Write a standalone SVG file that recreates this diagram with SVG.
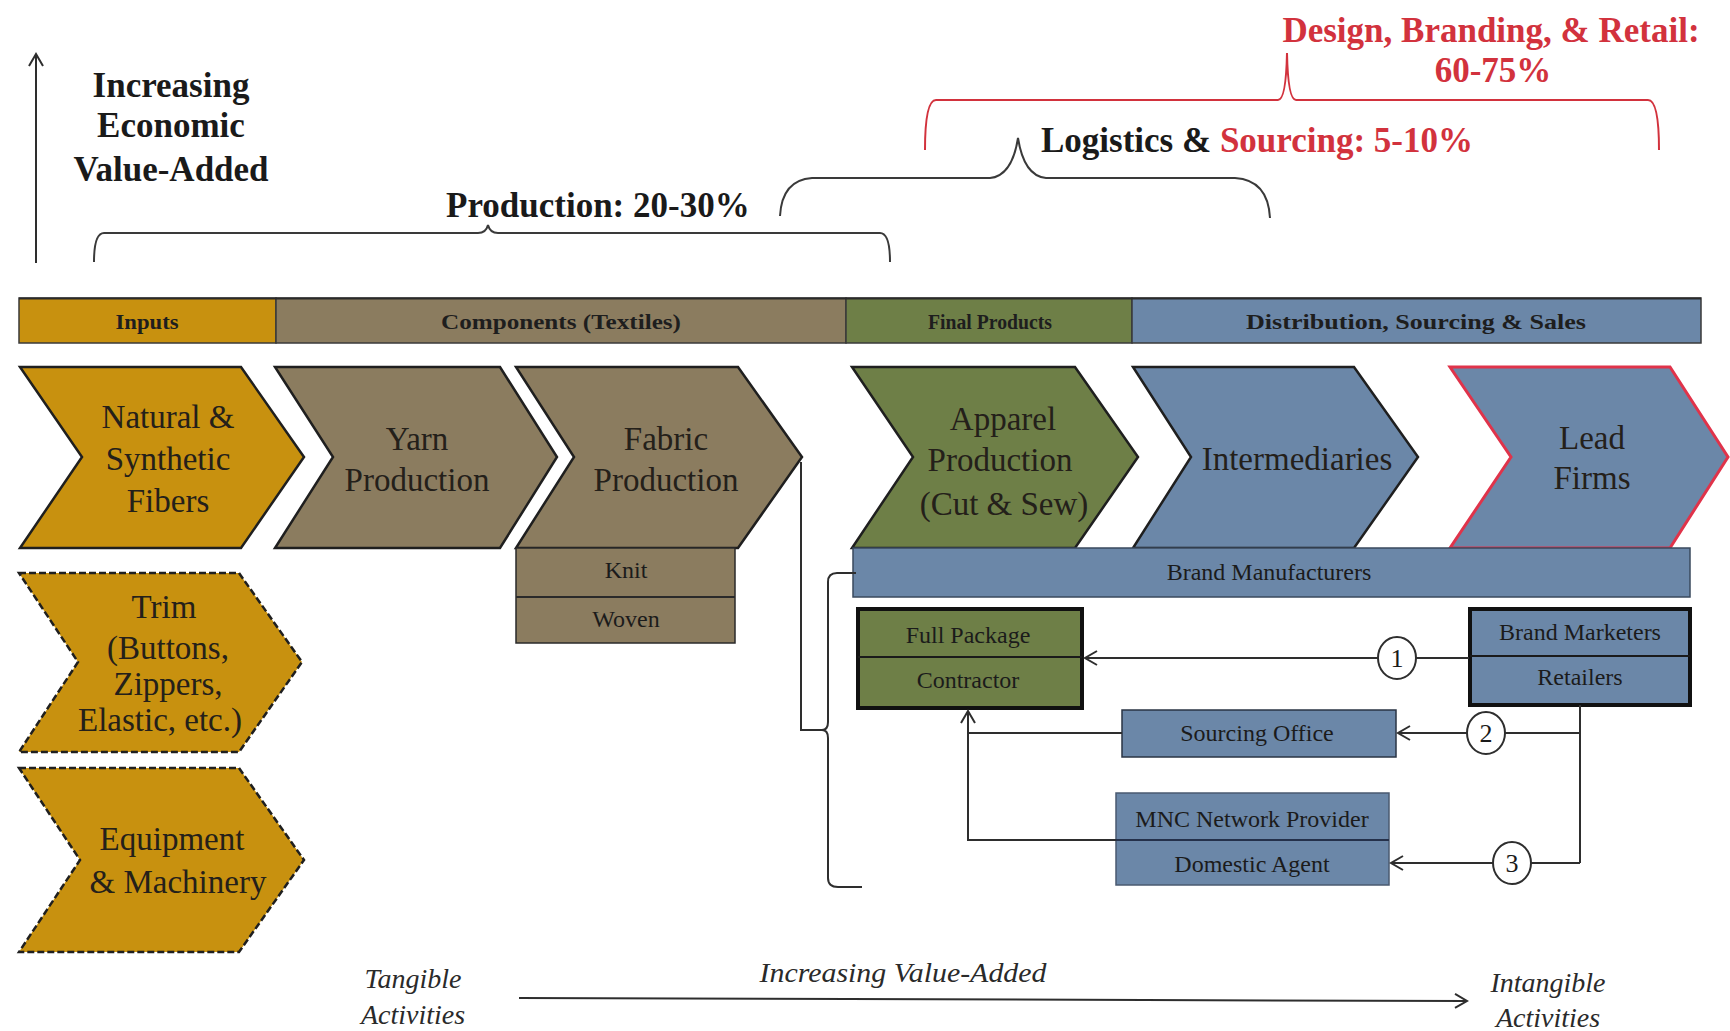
<svg xmlns="http://www.w3.org/2000/svg" width="1730" height="1031" viewBox="0 0 1730 1031">
  <style>
    .serif { font-family: "Liberation Serif", "Times New Roman", serif; }
    .head { font-family: "Liberation Serif", "Times New Roman", serif; font-weight: bold; font-size: 35px; fill: #1a1a1a; }
    .red { fill: #d2323d; }
    .bar { stroke: #3a3a3a; stroke-width: 1.5; }
    .bartxt { font-family: "Liberation Serif", "Times New Roman", serif; font-weight: bold; font-size: 22px; fill: #1e1e1e; text-anchor: middle; }
    .chev { stroke: #1f1f1f; stroke-width: 2.5; stroke-linejoin: miter; }
    .dash { stroke: #1f1f1f; stroke-width: 2.5; stroke-dasharray: 7 3; }
    .ctxt { font-family: "Liberation Serif", "Times New Roman", serif; font-size: 33px; fill: #24201a; text-anchor: middle; }
    .stxt { font-family: "Liberation Serif", "Times New Roman", serif; font-size: 24px; fill: #1b1b1b; text-anchor: middle; }
    .gold { fill: #c8910f; }
    .tan { fill: #8b7c5f; }
    .olive { fill: #6e7f47; }
    .steel { fill: #6b87a8; }
    .brace { fill: none; stroke: #3a3a3a; stroke-width: 2; }
    .rbrace { fill: none; stroke: #d2323d; stroke-width: 2; }
    .wire { fill: none; stroke: #2e2e2e; stroke-width: 2; }
    .ital { font-family: "Liberation Serif", "Times New Roman", serif; font-style: italic; font-size: 28px; fill: #2a2a2a; text-anchor: middle; }
  </style>
  <defs>
    <marker id="open" markerUnits="userSpaceOnUse" markerWidth="18" markerHeight="18" refX="15" refY="9" orient="auto">
      <path d="M3,2 L15,9 L3,16" fill="none" stroke="#2e2e2e" stroke-width="2"/>
    </marker>
  </defs>

  <rect width="1730" height="1031" fill="#ffffff"/>

  <!-- vertical value axis -->
  <g id="value-axis">
    <line x1="36" y1="263" x2="36" y2="54" class="wire" marker-end="url(#open)"/>
    <text class="head" x="171" y="97" text-anchor="middle">Increasing</text>
    <text class="head" x="171" y="137" text-anchor="middle">Economic</text>
    <text class="head" x="171" y="181" text-anchor="middle">Value-Added</text>
  </g>

  <!-- share-of-value braces -->
  <g id="brace-production">
    <path class="brace" d="M94,262 Q94,233 104,233 L478,233 Q486,233 488,225 Q490,233 498,233 L880,233 Q890,233 890,262"/>
    <text class="head" x="446" y="217">Production: 20-30%</text>
  </g>
  <g id="brace-logistics">
    <path class="brace" d="M780,216 Q782,180 812,178 L990,178 Q1012,176 1018,138 Q1024,176 1046,178 L1235,178 Q1268,180 1270,218"/>
    <text class="head" x="1041" y="152" font-size="34">Logistics &amp; <tspan class="red">Sourcing: 5-10%</tspan></text>
  </g>
  <g id="brace-design">
    <path class="rbrace" d="M925,150 Q925,100 936,100 L1278,100 Q1286,100 1287,53 Q1288,100 1296,100 L1648,100 Q1659,100 1659,150"/>
    <text class="head red" x="1491" y="42" text-anchor="middle">Design, Branding, &amp; Retail:</text>
    <text class="head red" x="1493" y="82" text-anchor="middle">60-75%</text>
  </g>

  <!-- stage bar -->
  <g id="stage-bar">
    <rect class="bar gold" x="19" y="298" width="257" height="45"/>
    <rect class="bar tan" x="276" y="298" width="570" height="45"/>
    <rect class="bar olive" x="846" y="298" width="286" height="45"/>
    <rect class="bar steel" x="1132" y="298" width="569" height="45"/>
    <line x1="19" y1="298.5" x2="1701" y2="298.5" stroke="#2a2a2a" stroke-width="2"/>
    <text class="bartxt" x="147" y="329" textLength="63" lengthAdjust="spacingAndGlyphs">Inputs</text>
    <text class="bartxt" x="561" y="329" textLength="240" lengthAdjust="spacingAndGlyphs">Components  (Textiles)</text>
    <text class="bartxt" x="990" y="329" textLength="124" lengthAdjust="spacingAndGlyphs">Final Products</text>
    <text class="bartxt" x="1416" y="329" textLength="340" lengthAdjust="spacingAndGlyphs">Distribution,  Sourcing &amp; Sales</text>
  </g>

  <!-- main chain -->
  <g id="fibers">
    <polygon class="chev gold" points="20,367 241,367 304,457 241,548 20,548 82,457"/>
    <text class="ctxt" x="168" y="428">Natural  &amp;</text>
    <text class="ctxt" x="168" y="470">Synthetic</text>
    <text class="ctxt" x="168" y="512">Fibers</text>
  </g>
  <g id="yarn">
    <polygon class="chev tan" points="275,367 500,367 557,457 500,548 275,548 333,457"/>
    <text class="ctxt" x="417" y="450">Yarn</text>
    <text class="ctxt" x="417" y="491">Production</text>
  </g>
  <g id="fabric">
    <polygon class="chev tan" points="516,367 738,367 802,457 738,548 516,548 574,457"/>
    <text class="ctxt" x="666" y="450">Fabric</text>
    <text class="ctxt" x="666" y="491">Production</text>
  </g>
  <g id="knit-woven">
    <rect x="516" y="548" width="219" height="95" class="tan" stroke="#2a2a2a" stroke-width="1.5"/>
    <line x1="516" y1="597" x2="735" y2="597" stroke="#2a2a2a" stroke-width="2"/>
    <text class="stxt" x="626" y="578" font-size="20">Knit</text>
    <text class="stxt" x="626" y="627" font-size="22">Woven</text>
  </g>
  <g id="apparel">
    <polygon class="chev olive" points="852,367 1075,367 1138,457 1075,548 852,548 913,457"/>
    <text class="ctxt" x="1003" y="430">Apparel</text>
    <text class="ctxt" x="1000" y="471">Production</text>
    <text class="ctxt" x="1004" y="515">(Cut &amp; Sew)</text>
  </g>
  <g id="intermediaries">
    <polygon class="chev steel" points="1133,367 1354,367 1418,457 1354,548 1133,548 1191,457"/>
    <text class="ctxt" x="1297" y="470">Intermediaries</text>
  </g>
  <g id="lead-firms">
    <polygon class="steel" stroke="#e0334a" stroke-width="3" points="1450,367 1670,367 1728,457 1670,548 1450,548 1511,457"/>
    <text class="ctxt" x="1592" y="449">Lead</text>
    <text class="ctxt" x="1592" y="489">Firms</text>
  </g>
  <g id="brand-manufacturers">
    <rect x="853" y="548" width="837" height="49" class="steel" stroke="#3a4a5e" stroke-width="1.5"/>
    <text class="stxt" x="1269" y="580">Brand Manufacturers</text>
  </g>

  <!-- supporting inputs -->
  <g id="trim">
    <polygon class="dash gold" points="19,573 239,573 302,662 239,752 19,752 78,662"/>
    <text class="ctxt" x="164" y="618" font-size="31">Trim</text>
    <text class="ctxt" x="168" y="659" font-size="31">(Buttons,</text>
    <text class="ctxt" x="168" y="695" font-size="31">Zippers,</text>
    <text class="ctxt" x="160" y="731" font-size="31">Elastic,  etc.)</text>
  </g>
  <g id="equipment">
    <polygon class="dash gold" points="19,768 239,768 304,860 239,952 19,952 80,860"/>
    <text class="ctxt" x="172" y="850">Equipment</text>
    <text class="ctxt" x="178" y="893">&amp; Machinery</text>
  </g>

  <!-- buyer / supplier relations -->
  <g id="full-package">
    <rect x="858" y="609" width="224" height="99" class="olive" stroke="#111" stroke-width="4"/>
    <line x1="858" y1="657" x2="1082" y2="657" stroke="#1a1a1a" stroke-width="2"/>
    <text class="stxt" x="968" y="643">Full Package</text>
    <text class="stxt" x="968" y="688">Contractor</text>
  </g>
  <g id="brand-marketers">
    <rect x="1470" y="609" width="220" height="96" class="steel" stroke="#111" stroke-width="4"/>
    <line x1="1470" y1="656" x2="1690" y2="656" stroke="#1a1a1a" stroke-width="2"/>
    <text class="stxt" x="1580" y="640">Brand Marketers</text>
    <text class="stxt" x="1580" y="685">Retailers</text>
  </g>
  <g id="sourcing-office">
    <rect x="1122" y="710" width="274" height="47" class="steel" stroke="#2a3444" stroke-width="1.5"/>
    <text class="stxt" x="1257" y="741" font-size="22">Sourcing Office</text>
  </g>
  <g id="mnc-agent">
    <rect x="1116" y="793" width="273" height="92" class="steel" stroke="#4a5a70" stroke-width="1.5"/>
    <line x1="1116" y1="840" x2="1389" y2="840" stroke="#24304a" stroke-width="2"/>
    <text class="stxt" x="1252" y="827">MNC Network Provider</text>
    <text class="stxt" x="1252" y="872">Domestic Agent</text>
  </g>

  <!-- connectors -->
  <g id="connectors">
    <path class="wire" d="M801,462 V730 H822"/>
    <path class="wire" d="M856,573 H837 Q828,573 828,582 V722 Q828,730 822,730 Q828,730 828,738 V878 Q828,887 838,887 H862"/>
    <path class="wire" d="M1469,658 H1085" marker-end="url(#open)"/>
    <path class="wire" d="M1580,705 V863"/>
    <path class="wire" d="M1580,733 H1398" marker-end="url(#open)"/>
    <path class="wire" d="M1580,863 H1391" marker-end="url(#open)"/>
    <path class="wire" d="M1122,733 H968"/>
    <path class="wire" d="M1116,840 H968 V711" marker-end="url(#open)"/>
    <path class="wire" d="M519,998 L1467,1001" marker-end="url(#open)"/>
    <g fill="#ffffff" stroke="#2e2e2e" stroke-width="2">
      <ellipse cx="1397" cy="658" rx="19" ry="21"/>
      <ellipse cx="1486" cy="733" rx="19" ry="21"/>
      <ellipse cx="1512" cy="863" rx="19" ry="21"/>
    </g>
    <g class="serif" font-size="26" fill="#1a1a1a" text-anchor="middle">
      <text x="1397" y="667">1</text>
      <text x="1486" y="742">2</text>
      <text x="1512" y="872">3</text>
    </g>
  </g>

  <!-- horizontal value axis -->
  <g id="activity-axis">
    <text class="ital" x="413" y="988">Tangible</text>
    <text class="ital" x="413" y="1024">Activities</text>
    <text class="ital" x="903" y="982" textLength="287" lengthAdjust="spacingAndGlyphs">Increasing  Value-Added</text>
    <text class="ital" x="1548" y="992">Intangible</text>
    <text class="ital" x="1548" y="1027">Activities</text>
  </g>
</svg>
